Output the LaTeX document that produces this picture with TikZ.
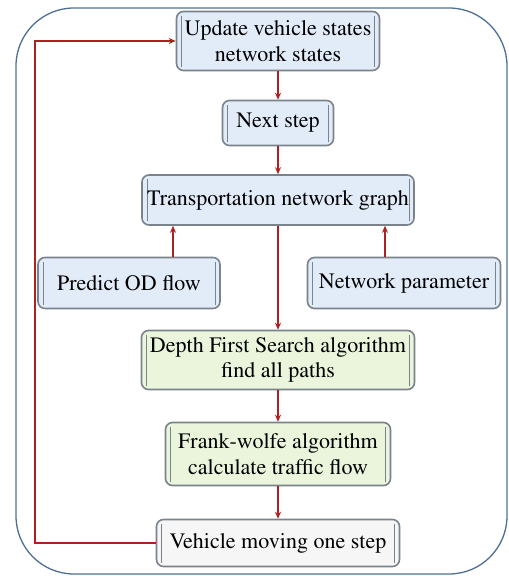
\documentclass[tikz,border=0pt]{standalone}
\usepackage[T1]{fontenc}
\renewcommand{\rmdefault}{ptm}
\usetikzlibrary{arrows.meta}
\definecolor{bluefill}{HTML}{E2EBF8}
\definecolor{greenfill}{HTML}{EAF5DC}
\definecolor{greyfill}{HTML}{F6F6F6}
\definecolor{boxline}{HTML}{7A828C}
\definecolor{outline}{HTML}{4F6F95}
\definecolor{arrred}{HTML}{B02020}
\tikzset{
  box/.style={draw=boxline, line width=1.6pt, rounded corners=7pt, align=center,
    inner sep=2pt, font=\rmfamily\fontsize{22}{25.5}\selectfont,
    path picture={
      \draw[boxline, line width=0.9pt]
        ([xshift=5pt,yshift=4pt]path picture bounding box.south west) --
        ([xshift=5pt,yshift=-4pt]path picture bounding box.north west);
      \draw[boxline, line width=0.9pt]
        ([xshift=-5pt,yshift=4pt]path picture bounding box.south east) --
        ([xshift=-5pt,yshift=-4pt]path picture bounding box.north east);
    }},
  bluebox/.style={box, fill=bluefill},
  greenbox/.style={box, fill=greenfill},
  greybox/.style={box, fill=greyfill},
  arr/.style={draw=arrred, line width=1.4pt, -{Stealth[length=7pt,width=6pt]}}
}
\begin{document}
\begin{tikzpicture}[x=1pt,y=-1pt]
\useasboundingbox (0,0) rectangle (509,576);
\draw[outline, line width=1.3pt, rounded corners=58pt] (16,8) rectangle (507,574);

\node[bluebox, minimum width=203pt, minimum height=59pt] (upd) at (278,41) {Update vehicle states\\network states};
\node[bluebox, minimum width=111pt, minimum height=45pt] (next) at (278,123) {Next step};
\node[bluebox, minimum width=272pt, minimum height=50pt] (trans) at (278,200) {Transportation network graph};
\node[bluebox, minimum width=182pt, minimum height=51pt] (od) at (129,283) {Predict OD flow};
\node[bluebox, minimum width=193pt, minimum height=51pt] (par) at (404,283) {Network parameter};
\node[greenbox, minimum width=273pt, minimum height=59pt] (dfs) at (278,360) {Depth First Search algorithm\\find all paths};
\node[greenbox, minimum width=225pt, minimum height=63pt] (fw) at (278,454) {Frank-wolfe algorithm\\calculate traffic flow};
\node[greybox, minimum width=243pt, minimum height=47pt] (veh) at (278,543) {Vehicle moving one step};

\draw[arr] (upd.south) -- (next.north);
\draw[arr] (next.south) -- (trans.north);
\draw[arr] (173,0 |- od.north) -- (173,0 |- trans.south);
\draw[arr] (385,0 |- par.north) -- (385,0 |- trans.south);
\draw[arr] (trans.south) -- (dfs.north);
\draw[arr] (dfs.south) -- (fw.north);
\draw[arr] (fw.south) -- (veh.north);
\coordinate (loopx) at (35,0);
\draw[arr] (veh.west) -- (loopx |- veh.west) -- (loopx |- upd.west) -- (upd.west);
\end{tikzpicture}
\end{document}
